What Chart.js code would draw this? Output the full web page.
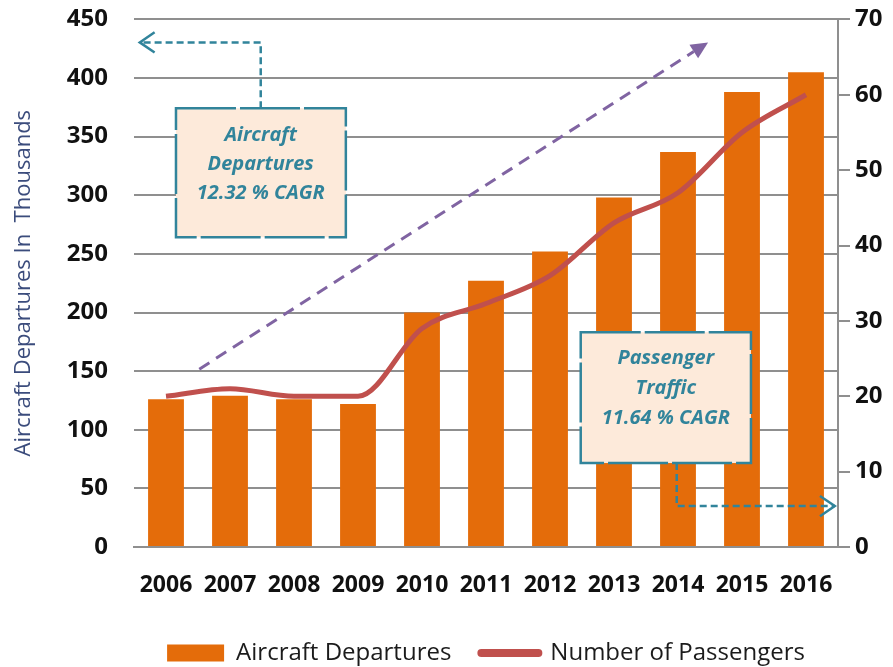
<!DOCTYPE html>
<html>
<head>
<meta charset="utf-8">
<script src="https://cdn.jsdelivr.net/npm/chart.js@4.4.1/dist/chart.umd.min.js"></script>
<style>
  html, body { margin: 0; padding: 0; background: #ffffff; }
  #wrap { width: 893px; height: 667px; }
</style>
</head>
<body>
<div id="wrap"><canvas id="c" width="893" height="667"></canvas></div>
<script>
// ---- data ----
const years = ['2006', '2007', '2008', '2009', '2010', '2011', '2012', '2013', '2014', '2015', '2016'];
const aircraftDepartures = [126, 129, 126, 122, 200, 227, 252, 298, 337, 388, 405];
const numberOfPassengers = [20, 21, 20, 20, 29, 32.3, 36, 43, 47, 55, 60];
const leftAxis = { min: 0, max: 450, step: 50 };
const rightAxis = { min: 0, max: 70, step: 10 };
const seriesNames = ['Aircraft Departures', 'Number of Passengers'];
const leftAxisTitle = 'Aircraft Departures In  Thousands';
const departuresNote = ['Aircraft', 'Departures', '12.32 % CAGR'];
const passengersNote = ['Passenger', 'Traffic', '11.64 % CAGR'];

// ---- styles ----
const FONT = "'Open Sans', 'DejaVu Sans', sans-serif";
const BAR_COLOR = '#E46C0A';
const LINE_COLOR = '#C0504D';
const GRID_COLOR = '#8f8f8f';
const TEAL = '#31849B';
const PURPLE = '#8064A2';
const BOX_FILL = '#FDEADA';

// annotation geometry in data units (x: category index, y: left-axis value)
const notes = {
  trend: { from: [0.52, 151.7], to: [8.47, 430.4] },
  box1: { x0: 0.156, x1: 2.81, yTop: 374.2, yBot: 264.2, cx: 1.48, lines: [351.1, 326.4, 301.7] },
  arrow1: [[1.48, 374.2], [1.48, 430.4], [-0.41, 430.4]],
  box2: { x0: 6.48, x1: 9.14, yTop: 183.2, yBot: 71.6, cx: 7.81, lines: [161.1, 135.5, 109.9] },
  arrow2: [[7.98, 71.6], [7.98, 34.9], [10.45, 34.9]]
};

function chevron(ctx, tip, prev, len) {
  const ang = Math.atan2(tip[1] - prev[1], tip[0] - prev[0]);
  const a = 0.6;
  ctx.save();
  ctx.setLineDash([]);
  ctx.beginPath();
  ctx.moveTo(tip[0] - len * Math.cos(ang - a), tip[1] - len * Math.sin(ang - a));
  ctx.lineTo(tip[0], tip[1]);
  ctx.lineTo(tip[0] - len * Math.cos(ang + a), tip[1] - len * Math.sin(ang + a));
  ctx.stroke();
  ctx.restore();
}

const notesPlugin = {
  id: 'cagrNotes',
  afterDatasetsDraw(chart) {
    const { ctx, scales } = chart;
    const px = v => scales.x.getPixelForValue(v);
    const py = v => scales.y.getPixelForValue(v);
    const P = p => [px(p[0]), py(p[1])];
    ctx.save();

    // purple dashed trend arrow
    const a = P(notes.trend.from), b = P(notes.trend.to);
    const ang = Math.atan2(b[1] - a[1], b[0] - a[0]);
    const headLen = 17, headHalf = 8;
    const base = [b[0] - headLen * Math.cos(ang), b[1] - headLen * Math.sin(ang)];
    ctx.strokeStyle = PURPLE;
    ctx.fillStyle = PURPLE;
    ctx.lineWidth = 3;
    ctx.setLineDash([12, 8]);
    ctx.beginPath();
    ctx.moveTo(a[0], a[1]);
    ctx.lineTo(base[0], base[1]);
    ctx.stroke();
    ctx.setLineDash([]);
    ctx.beginPath();
    ctx.moveTo(b[0], b[1]);
    ctx.lineTo(base[0] + headHalf * Math.sin(ang), base[1] - headHalf * Math.cos(ang));
    ctx.lineTo(base[0] - headHalf * Math.sin(ang), base[1] + headHalf * Math.cos(ang));
    ctx.closePath();
    ctx.fill();

    // teal elbow arrows
    [notes.arrow1, notes.arrow2].forEach(path => {
      const pts = path.map(P);
      ctx.strokeStyle = TEAL;
      ctx.lineWidth = 2.5;
      ctx.setLineDash([7, 4]);
      ctx.beginPath();
      ctx.moveTo(pts[0][0], pts[0][1]);
      for (let i = 1; i < pts.length; i++) ctx.lineTo(pts[i][0], pts[i][1]);
      ctx.stroke();
      chevron(ctx, pts[pts.length - 1], pts[pts.length - 2], 18);
    });

    // note boxes
    [[notes.box1, departuresNote], [notes.box2, passengersNote]].forEach(([bx, text]) => {
      const x0 = px(bx.x0), x1 = px(bx.x1), y0 = py(bx.yTop), y1 = py(bx.yBot);
      ctx.setLineDash([]);
      ctx.fillStyle = BOX_FILL;
      ctx.fillRect(x0, y0, x1 - x0, y1 - y0);
      ctx.strokeStyle = TEAL;
      ctx.lineWidth = 2.5;
      ctx.setLineDash([60, 4]);
      ctx.strokeRect(x0, y0, x1 - x0, y1 - y0);
      ctx.setLineDash([]);
      ctx.fillStyle = TEAL;
      ctx.font = "italic bold 20px " + FONT;
      ctx.textAlign = 'center';
      ctx.textBaseline = 'middle';
      text.forEach((t, i) => ctx.fillText(t, px(bx.cx), py(bx.lines[i])));
    });
    ctx.restore();
  }
};

new Chart(document.getElementById('c'), {
  type: 'bar',
  data: {
    labels: years,
    datasets: [
      {
        type: 'bar',
        label: seriesNames[0],
        data: aircraftDepartures,
        backgroundColor: BAR_COLOR,
        borderWidth: 0,
        barPercentage: 0.56,
        categoryPercentage: 1.0,
        yAxisID: 'y',
        order: 2
      },
      {
        type: 'line',
        label: seriesNames[1],
        data: numberOfPassengers,
        borderColor: LINE_COLOR,
        backgroundColor: LINE_COLOR,
        borderWidth: 5,
        cubicInterpolationMode: 'monotone',
        pointRadius: 0,
        pointHoverRadius: 0,
        fill: false,
        yAxisID: 'y1',
        order: 1
      }
    ]
  },
  options: {
    responsive: false,
    animation: false,
    devicePixelRatio: 1,
    layout: { padding: { top: 19, left: 0, right: 0, bottom: -8 } },
    plugins: {
      tooltip: { enabled: false },
      legend: {
        position: 'bottom',
        fullSize: false,
        labels: {
          usePointStyle: true,
          pointStyleWidth: 57,
          boxHeight: 17,
          padding: 30,
          color: '#1b1b1b',
          font: { family: FONT, size: 24 },
          sort: (a, b) => a.datasetIndex - b.datasetIndex,
          generateLabels(chart) {
            const items = Chart.defaults.plugins.legend.labels.generateLabels(chart);
            items.forEach(it => {
              if (it.datasetIndex === 0) {
                it.pointStyle = 'rect';
                it.fillStyle = BAR_COLOR;
                it.strokeStyle = BAR_COLOR;
                it.lineWidth = 0;
              } else {
                it.pointStyle = 'line';
                it.strokeStyle = LINE_COLOR;
                it.lineWidth = 8;
                it.lineCap = 'round';
              }
            });
            return items;
          }
        }
      }
    },
    scales: {
      x: {
        grid: { display: false, drawTicks: false },
        border: { display: true, color: GRID_COLOR, width: 2 },
        ticks: { color: '#111', padding: 25, font: { family: FONT, size: 23, weight: 'bold' }, maxRotation: 0 },
        afterFit(scale) { scale.height = 64; }
      },
      y: {
        position: 'left',
        min: leftAxis.min,
        max: leftAxis.max,
        ticks: { stepSize: leftAxis.step, color: '#111', padding: 2, font: { family: FONT, size: 24, weight: 'bold' } },
        grid: { color: GRID_COLOR, lineWidth: 2, drawTicks: true, tickLength: 24, tickColor: 'rgba(0,0,0,0)' },
        border: { display: false },
        title: {
          display: true,
          text: leftAxisTitle,
          color: '#3B4C7C',
          font: { family: FONT, size: 22 },
          padding: { top: 11, bottom: 0 }
        },
        afterFit(scale) { scale.width = 134; }
      },
      y1: {
        position: 'right',
        min: rightAxis.min,
        max: rightAxis.max,
        ticks: { stepSize: rightAxis.step, color: '#111', padding: 5, font: { family: FONT, size: 24, weight: 'bold' } },
        grid: { drawOnChartArea: false, drawTicks: true, tickLength: 12, color: GRID_COLOR, lineWidth: 2 },
        border: { display: true, color: GRID_COLOR, width: 2 },
        afterFit(scale) { scale.width = 55; }
      }
    }
  },
  plugins: [notesPlugin]
});
</script>
</body>
</html>
